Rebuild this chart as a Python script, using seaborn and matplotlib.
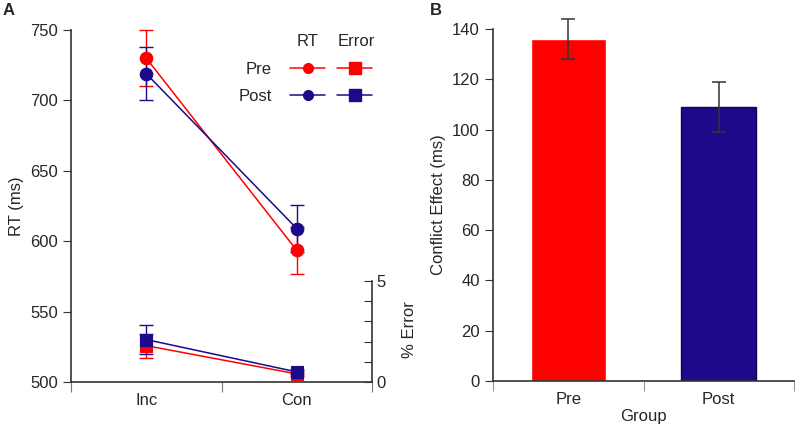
import numpy as np
import pandas as pd
import matplotlib
matplotlib.use('Agg')
import matplotlib.pyplot as plt
import seaborn as sns
from matplotlib.lines import Line2D

# data
conditions = ['Inc', 'Con']
groups = ['Pre', 'Post']
rt_pre = [730, 593.5]
rt_pre_sem = [20, 16.5]
rt_post = [719, 609]
rt_post_sem = [19, 17]
err_pre = [1.8, 0.4]
err_pre_sem = [0.6, 0.1]
err_post = [2.1, 0.5]
err_post_sem = [0.7, 0.1]
conflict = [136, 109]
conflict_sem = [8, 10]

colors = {'Pre': '#ff0000', 'Post': '#1c0a8a'}
dark = '#333333'
fs = 12

sns.set_style('ticks')
plt.rcParams['font.family'] = ['Liberation Sans', 'DejaVu Sans']
plt.rcParams['font.size'] = fs

df = pd.DataFrame({
    'cond': conditions * 2,
    'group': ['Pre'] * 2 + ['Post'] * 2,
    'rt': rt_pre + rt_post,
    'rt_sem': rt_pre_sem + rt_post_sem,
    'err': err_pre + err_post,
    'err_sem': err_pre_sem + err_post_sem,
})
bars = pd.DataFrame({'group': groups, 'effect': conflict, 'se': conflict_sem})

fig = plt.figure(figsize=(7.97, 4.29), dpi=100)
axA = fig.add_axes([71 / 797, 1 - 382 / 429, 301 / 797, 352 / 429])
axE = axA.twinx()
axB = fig.add_axes([493 / 797, 1 - 381 / 429, 301 / 797, 352 / 429])

# ---- panel A: RT (circles) ----
x = np.arange(len(conditions))
for g in groups:
    sub = df[df.group == g]
    axA.errorbar(x, sub['rt'], yerr=sub['rt_sem'], fmt='none', ecolor=colors[g],
                 elinewidth=1, capsize=5, capthick=1, zorder=2, clip_on=False)
sns.pointplot(data=df, x='cond', y='rt', hue='group', hue_order=groups,
              palette=colors, markers='o', errorbar=None, ax=axA,
              markersize=9, linewidth=1.1, legend=False, zorder=3)

# ---- panel A: % error (squares) on twin axis ----
for g in groups:
    sub = df[df.group == g]
    axE.errorbar(x, sub['err'], yerr=sub['err_sem'], fmt='none', ecolor=colors[g],
                 elinewidth=1, capsize=5, capthick=1, zorder=2)
sns.pointplot(data=df, x='cond', y='err', hue='group', hue_order=groups,
              palette=colors, markers='s', errorbar=None, ax=axE,
              markersize=9, linewidth=1.1, legend=False, zorder=3)

axA.set_xlim(-0.5, 1.5)
axA.set_ylim(500, 750)
axA.set_yticks([500, 550, 600, 650, 700, 750])
axA.set_ylabel('RT (ms)', fontsize=fs)
axA.set_xlabel('')
axA.set_xticks([-0.5, 0.5, 1.5])
axA.set_xticklabels([])
axA.set_xticks(x, minor=True)
axA.set_xticklabels(conditions, minor=True)
axA.tick_params(axis='x', which='major', length=7, color='#777777')
axA.tick_params(axis='x', which='minor', length=0, labelsize=fs, pad=8)
axA.tick_params(axis='y', length=6, color=dark, labelsize=fs)
for s in ['top', 'right']:
    axA.spines[s].set_visible(False)
for s in ['left', 'bottom']:
    axA.spines[s].set_color(dark)
    axA.spines[s].set_linewidth(1.2)

axE.set_ylim(0, 5 * 352 / 101)
axE.set_yticks([0, 1, 2, 3, 4, 5])
axE.set_yticklabels(['0', '', '', '', '', '5'])
axE.tick_params(axis='y', direction='in', length=6, color=dark, labelsize=fs)
axE.spines['right'].set_bounds(0, 5)
axE.spines['right'].set_color(dark)
axE.spines['right'].set_linewidth(1.2)
for s in ['top', 'left', 'bottom']:
    axE.spines[s].set_visible(False)
axE.set_ylabel('% Error', fontsize=fs)
axE.yaxis.set_label_coords(1.10, 0.15)
axE.set_xlabel('')

# legend: RT column with row labels, Error column without
rt_handles = [Line2D([], [], color=colors[g], marker='o', markersize=7, lw=1.1) for g in groups]
er_handles = [Line2D([], [], color=colors[g], marker='s', markersize=8, lw=1.1) for g in groups]
leg1 = axA.legend(rt_handles, groups, loc='upper right', bbox_to_anchor=(0.844, 0.91),
                  frameon=False, markerfirst=False, handlelength=2.1, handletextpad=1.1,
                  borderpad=0, borderaxespad=0, labelspacing=0.75, fontsize=fs)
axA.add_artist(leg1)
axA.legend(er_handles, ['', ''], loc='upper right', bbox_to_anchor=(1.0, 0.91),
           frameon=False, markerfirst=False, handlelength=2.1, handletextpad=0,
           borderpad=0, borderaxespad=0, labelspacing=0.75, fontsize=fs)
axA.text(0.787, 0.966, 'RT', transform=axA.transAxes, ha='center', va='center', fontsize=fs)
axA.text(0.947, 0.966, 'Error', transform=axA.transAxes, ha='center', va='center', fontsize=fs)

# ---- panel B: conflict effect bars ----
sns.barplot(data=bars, x='group', y='effect', hue='group', palette=colors,
            errorbar=None, width=0.5, saturation=1, legend=False, ax=axB)
axB.patches[1].set_edgecolor('#10064f')
axB.patches[1].set_linewidth(1)
axB.errorbar(np.arange(len(groups)), bars['effect'], yerr=bars['se'], fmt='none',
             ecolor=dark, elinewidth=1.1, capsize=5, capthick=1.1, clip_on=False)
axB.set_xlim(-0.5, 1.5)
axB.set_ylim(0, 140)
axB.set_yticks(np.arange(0, 141, 20))
axB.set_ylabel('Conflict Effect (ms)', fontsize=fs)
axB.set_xlabel('Group', fontsize=fs, labelpad=1)
axB.set_xticks([-0.5, 0.5, 1.5])
axB.set_xticklabels([])
axB.set_xticks(np.arange(len(groups)), minor=True)
axB.set_xticklabels(groups, minor=True)
axB.tick_params(axis='x', which='major', length=7, color='#999999')
axB.tick_params(axis='x', which='minor', length=0, labelsize=fs, pad=8)
axB.tick_params(axis='y', length=6, color=dark, labelsize=fs)
for s in ['top', 'right']:
    axB.spines[s].set_visible(False)
for s in ['left', 'bottom']:
    axB.spines[s].set_color(dark)
    axB.spines[s].set_linewidth(1.2)

fig.text(3 / 797, 1 - 3 / 429, 'A', fontsize=12, fontweight='bold', va='top')
fig.text(430 / 797, 1 - 3 / 429, 'B', fontsize=12, fontweight='bold', va='top')

fig.savefig('out.png', dpi=100)
